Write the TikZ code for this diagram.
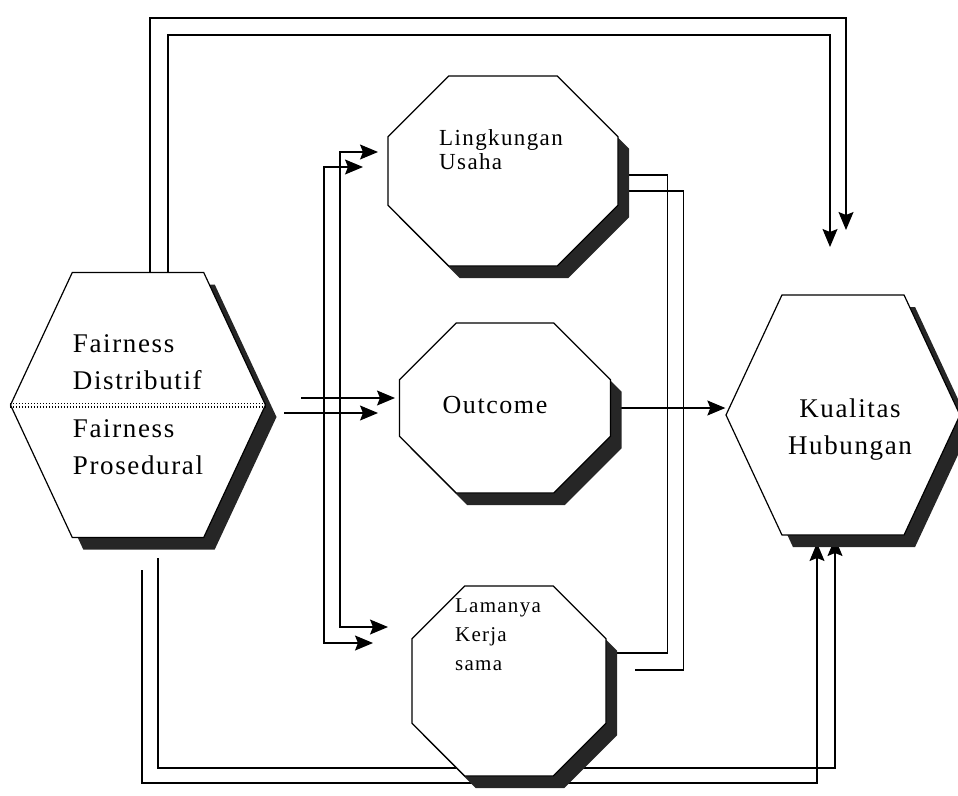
\documentclass[tikz,border=0pt]{standalone}
\usepackage{fontspec}
\setmainfont{Liberation Serif}[LetterSpace=6]
\usetikzlibrary{shapes.misc,shapes.symbols,shadows,arrows.meta,backgrounds}

\tikzset{
  shade/.style={drop shadow={opacity=1, fill=black!85, shadow xshift=11pt, shadow yshift=-12pt}},
  hexa/.style={signal, signal to=east and west, signal pointer angle=130, draw, fill=white,
    line width=1.2pt, align=left, inner sep=0pt, font=\fontsize{27}{37}\selectfont, shade},
  octa/.style={chamfered rectangle, draw, fill=white, line width=1.2pt, inner sep=0pt,
    font=\fontsize{26}{37}\selectfont, shade},
  txt/.style={align=left, inner sep=0pt},
  tip/.tip={Stealth[length=18pt,width=15pt,inset=3pt]},
  arr/.style={-tip, line width=1.2pt},
  arrs/.style={tip-tip, line width=1.2pt},
  link/.style={line width=1.2pt},
  sepline/.style={line width=1.6pt, dash pattern=on 1.6pt off 1.4pt},
}

\begin{document}
\begin{tikzpicture}[x=1pt, y=-1pt]
\useasboundingbox (0,0) rectangle (958,795);

\node[hexa, minimum width=255pt, minimum height=265pt] (fp) at (138,405)
  {Fairness\\Distributif\\[11pt]Fairness\\Prosedural};
\node[hexa, minimum width=234pt, minimum height=240pt] (kh) at (843,415) {\phantom{Outcome}};
\node[octa, chamfered rectangle xsep=55pt, chamfered rectangle ysep=52pt,
  minimum width=230pt, minimum height=190pt] (lu) at (503,171) {\phantom{Outcome}};
\node[octa, chamfered rectangle xsep=52pt, chamfered rectangle ysep=48pt,
  minimum width=211pt, minimum height=170pt] (oc) at (505,408) {\phantom{Outcome}};
\node[octa, chamfered rectangle xsep=38pt, chamfered rectangle ysep=44pt,
  minimum width=194pt, minimum height=190pt] (lk) at (509,681) {\phantom{Outcome}};

\node[txt, align=center, font=\fontsize{27}{37}\selectfont] (kh-text) at (850,430) {Kualitas\\Hubungan};
\node[txt, font=\fontsize{23}{24}\selectfont] (lu-text) at (501,150) {Lingkungan\\Usaha};
\node[txt, font=\fontsize{26}{37}\selectfont] (oc-text) at (495,405) {Outcome};
\node[txt, font=\fontsize{21}{29}\selectfont] (lk-text) at (498,635) {Lamanya\\Kerja\\sama};

\draw[sepline] ([yshift=1.7pt]fp.west) -- ([yshift=1.7pt]fp.east);
\draw[sepline] ([yshift=-1.7pt]fp.west) -- ([yshift=-1.7pt]fp.east);

% free ends of the arrows
\coordinate (kh-t1) at (846,230);
\coordinate (kh-t2) at (830,247);
\coordinate (kh-b1) at (817,543);
\coordinate (kh-b2) at (835,538);
\coordinate (lu-a) at (363,167);
\coordinate (lu-b) at (378,152);
\coordinate (lk-a) at (373,643);
\coordinate (lk-b) at (388,627);
\coordinate (oc-a) at (395,398);
\coordinate (oc-b) at (378,413);

\begin{pgfonlayer}{background}
\draw[arr] ([xshift=12pt]fp.north) |- ([yshift=212pt]kh-t1) -- (kh-t1);
\draw[arr] ([xshift=30pt]fp.north) |- ([yshift=212pt]kh-t2) -- (kh-t2);
\draw[arr, shorten <=20pt] ([xshift=20pt]fp.south) |- ([yshift=-230pt]kh-b2) -- (kh-b2);
\draw[arr, shorten <=32pt] ([xshift=4pt]fp.south) |- ([yshift=-240pt]kh-b1) -- (kh-b1);

\draw[arr] ([shift={(35pt,7pt)}]fp.east) -- (oc-a);
\draw[arr] ([shift={(18pt,-8pt)}]fp.east) -- (oc-b);

\draw[arrs] (lu-a) -- ++(-39,0) |- (lk-a);
\draw[arrs] (lu-b) -- ++(-38,0) |- (lk-b);

\draw[link] ([yshift=-4pt]lu.east) -- ++(49,0) |- ([yshift=28pt]lk.east);
\draw[link, shorten >=28pt] ([yshift=-20pt]lu.east) -- ++(65,0) |- ([yshift=11pt]lk.east);

\draw[arr] (oc.east) -- (oc.east -| kh.west);
\end{pgfonlayer}
\end{tikzpicture}
\end{document}
